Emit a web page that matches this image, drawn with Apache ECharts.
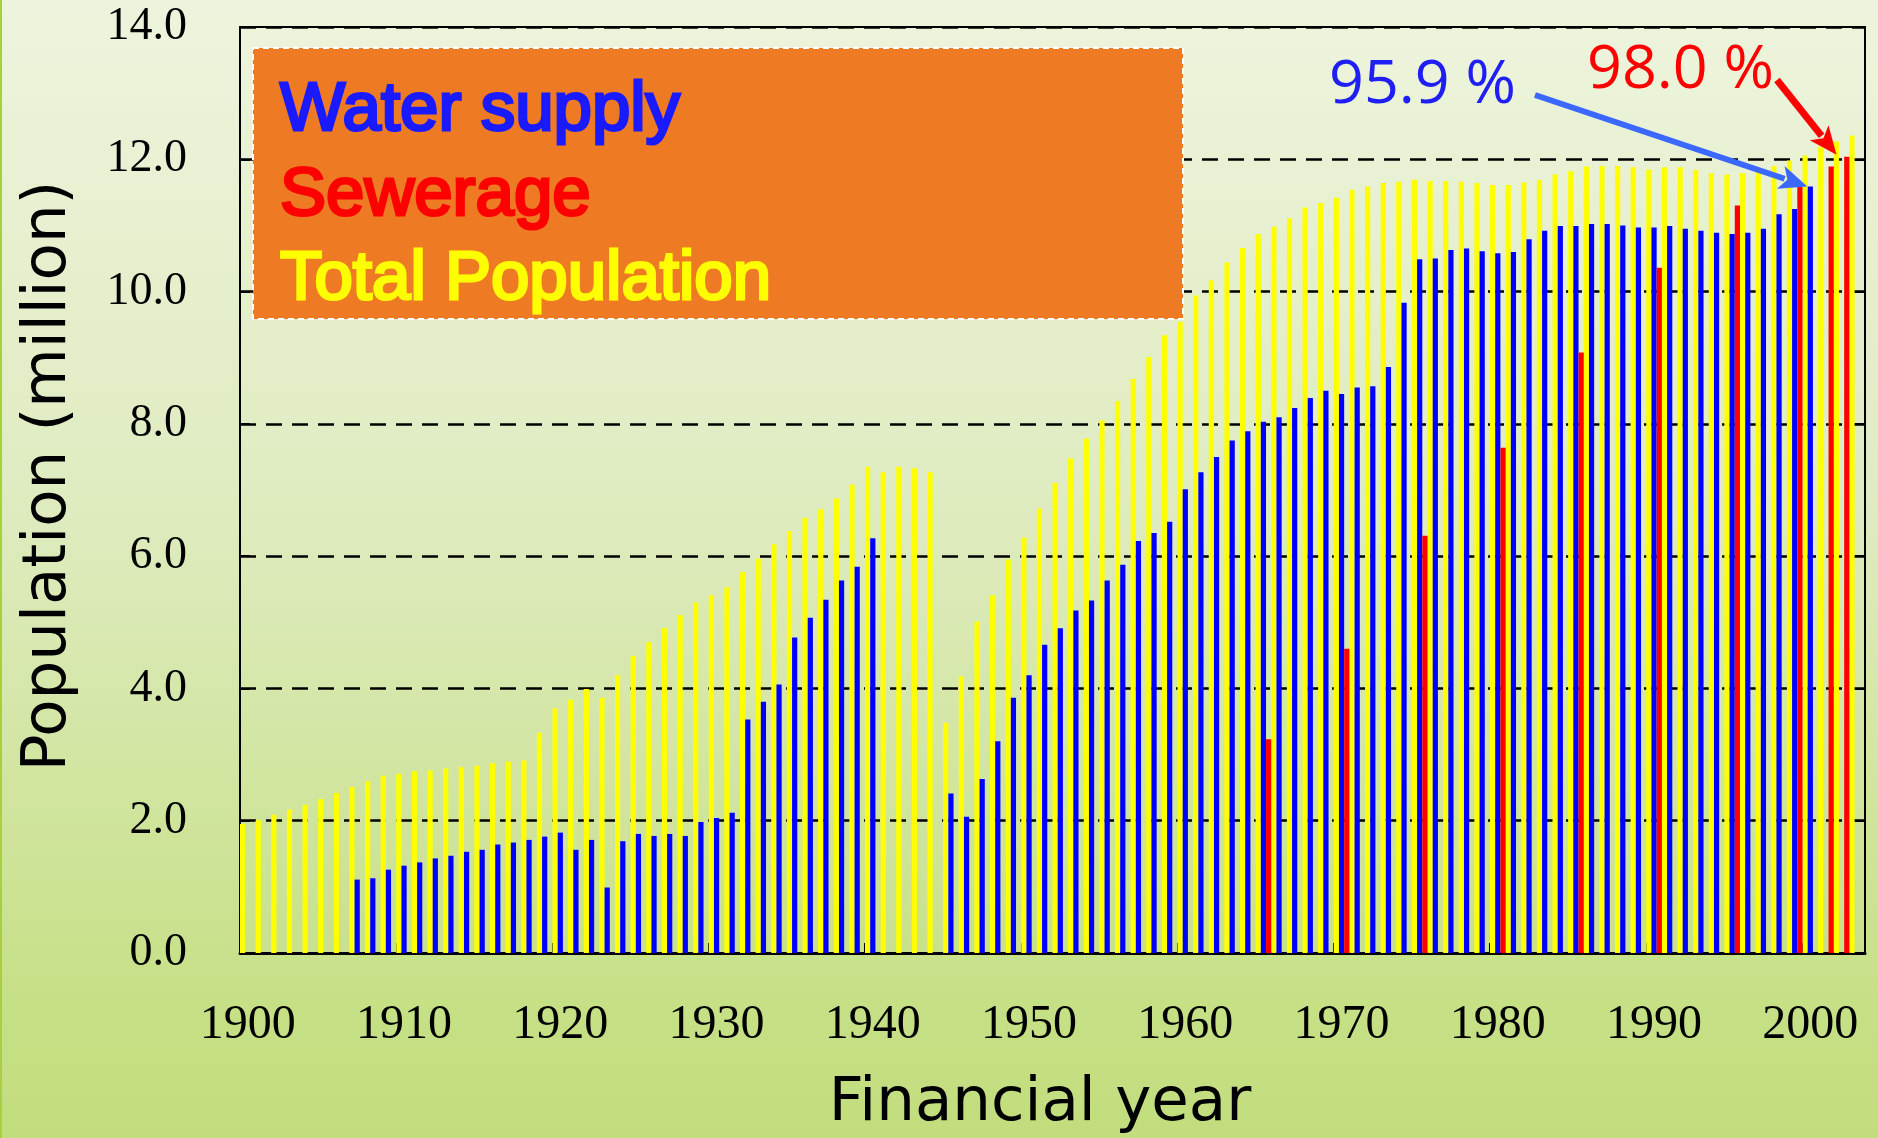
<!DOCTYPE html>
<html>
<head>
<meta charset="utf-8">
<script src="https://cdn.jsdelivr.net/npm/echarts@6/dist/echarts.min.js"></script>
<style>
  html, body { margin: 0; padding: 0; }
  #chart {
    width: 1878px; height: 1138px;
    background: linear-gradient(to bottom, #EDF4DD 0%, #DEEBBE 46%, #C6E086 88%, #C2DD7D 100%);
  }
</style>
</head>
<body>
<div id="chart"></div>
<script>
// ---------------- DATA ----------------
const firstYear = 1900, lastYear = 2003;
const years = [];
for (let y = firstYear; y <= lastYear; y++) years.push(String(y));

// Total population (million), 1900-2003
const totalPopulation = [
  1.95, 2.01, 2.09, 2.17, 2.24, 2.33, 2.42, 2.51, 2.60, 2.68,
  2.71, 2.75, 2.76, 2.79, 2.81, 2.83, 2.87, 2.89, 2.91, 3.33,
  3.70, 3.83, 3.99, 3.86, 4.20, 4.49, 4.70, 4.91, 5.11, 5.30,
  5.41, 5.53, 5.76, 5.96, 6.18, 6.38, 6.58, 6.71, 6.87, 7.08,
  7.35, 7.27, 7.35, 7.33, 7.27, 3.48, 4.18, 5.01, 5.41, 5.95,
  6.28, 6.72, 7.11, 7.48, 7.78, 8.05, 8.34, 8.68, 9.01, 9.34,
  9.54, 9.94, 10.17, 10.44, 10.66, 10.87, 10.98, 11.11, 11.27, 11.34,
  11.42, 11.54, 11.59, 11.64, 11.66, 11.69, 11.67, 11.67, 11.66, 11.64,
  11.61, 11.61, 11.65, 11.69, 11.77, 11.82, 11.89, 11.90, 11.90, 11.88,
  11.84, 11.88, 11.88, 11.84, 11.79, 11.77, 11.79, 11.80, 11.90, 11.98,
  12.06, 12.19, 12.27, 12.36
];

// Water supply population (million), 1900-2003
const waterSupply = [
  null, null, null, null, null, null, null, 1.11, 1.13, 1.26,
  1.32, 1.37, 1.43, 1.47, 1.53, 1.56, 1.64, 1.67, 1.71, 1.76,
  1.82, 1.56, 1.71, 0.99, 1.69, 1.80, 1.77, 1.80, 1.77, 1.98,
  2.04, 2.12, 3.53, 3.80, 4.06, 4.77, 5.07, 5.34, 5.63, 5.84,
  6.27, null, null, null, null, 2.41, 2.06, 2.63, 3.20, 3.86,
  4.20, 4.66, 4.91, 5.18, 5.33, 5.63, 5.87, 6.23, 6.35, 6.52,
  7.01, 7.27, 7.50, 7.75, 7.89, 8.03, 8.10, 8.24, 8.39, 8.50,
  8.45, 8.55, 8.57, 8.86, 9.83, 10.49, 10.50, 10.63, 10.65, 10.61,
  10.58, 10.60, 10.79, 10.92, 10.99, 10.99, 11.02, 11.02, 11.00, 10.97,
  10.97, 10.99, 10.95, 10.92, 10.89, 10.87, 10.89, 10.95, 11.17, 11.25,
  11.59, null, null, null
];

// Sewerage population (million): only surveyed years
const sewerageYears  = [1965, 1970, 1975, 1980, 1985, 1990, 1995, 1999, 2001, 2002];
const sewerageValues = [3.23, 4.60, 6.31, 7.64, 9.08, 10.36, 11.30, 11.59, 11.89, 12.04];

const yTickLabels = ['0.0', '2.0', '4.0', '6.0', '8.0', '10.0', '12.0', '14.0'];

const legendLabels = ['Water supply', 'Sewerage', 'Total Population'];
const annotWater = '95.9 %';
const annotSewer = '98.0 %';

// --------------- BUILD ----------------
const sewerage = years.map(y => {
  const i = sewerageYears.indexOf(Number(y));
  return i >= 0 ? sewerageValues[i] : null;
});

const chart = echarts.init(document.getElementById('chart'), null, { renderer: 'canvas' });

const GRID = { left: 240, top: 27, width: 1625, height: 926 };
const everyTen = (idx) => idx % 10 === 0;

chart.setOption({
  animation: false,
  backgroundColor: 'transparent',
  grid: Object.assign({ show: true, borderColor: '#000', borderWidth: 2, backgroundColor: 'transparent' }, GRID),
  xAxis: [{
    type: 'category',
    data: years,
    boundaryGap: true,
    axisLine: { lineStyle: { color: '#000', width: 3 } },
    axisTick: { show: true, inside: true, length: 10, interval: everyTen, lineStyle: { color: '#000', width: 2 } },
    axisLabel: {
      interval: everyTen,
      fontFamily: 'Liberation Serif', fontSize: 48, color: '#000', margin: 48
    },
    splitLine: { show: false }
  }, {
    type: 'category',
    data: years,
    position: 'top',
    axisLine: { show: true, lineStyle: { color: '#000', width: 2 } },
    axisTick: { show: false },
    axisLabel: { show: false },
    splitLine: { show: false }
  }],
  yAxis: [{
    type: 'value', min: 0, max: 14, interval: 2,
    axisLine: { show: true, lineStyle: { color: '#000', width: 2 } },
    axisTick: { show: true, inside: true, length: 10, lineStyle: { color: '#000', width: 2 } },
    axisLabel: {
      fontFamily: 'Liberation Serif', fontSize: 46, color: '#000', margin: 53,
      formatter: v => yTickLabels[Math.round(v / 2)]
    },
    splitLine: { show: true, lineStyle: { color: '#000', width: 2.5, type: [16, 10] } }
  }, {
    type: 'value', min: 0, max: 14, interval: 2, position: 'right',
    axisLine: { show: true, lineStyle: { color: '#000', width: 2 } },
    axisTick: { show: true, inside: true, length: 10, lineStyle: { color: '#000', width: 2 } },
    axisLabel: { show: false },
    splitLine: { show: false }
  }],
  series: [
    { name: legendLabels[2], type: 'bar', data: totalPopulation, barGap: '0%', barCategoryGap: '0%',
      itemStyle: { color: '#FFFF00' }, z: 2 },
    { name: legendLabels[0], type: 'bar', data: waterSupply, barGap: '0%', barCategoryGap: '0%',
      itemStyle: { color: '#0000FF' }, z: 2 },
    { name: legendLabels[1], type: 'bar', data: sewerage, barGap: '0%', barCategoryGap: '0%',
      itemStyle: { color: '#FF0000' }, z: 2 }
  ]
});

// --------------- ANNOTATIONS ----------------
function arrow(x1, y1, x2, y2, color, lw, headLen, headHalf) {
  const dx = x2 - x1, dy = y2 - y1, L = Math.hypot(dx, dy);
  const ux = dx / L, uy = dy / L, px = -uy, py = ux;
  const bx = x2 - ux * headLen, by = y2 - uy * headLen;
  const nx = x2 - ux * headLen * 0.75, ny = y2 - uy * headLen * 0.75;
  return [
    { type: 'line', z: 100, shape: { x1: x1, y1: y1, x2: bx + ux * 4, y2: by + uy * 4 },
      style: { stroke: color, lineWidth: lw, lineCap: 'butt' } },
    { type: 'polygon', z: 100, shape: { points: [
        [x2, y2], [bx + px * headHalf, by + py * headHalf], [nx, ny], [bx - px * headHalf, by - py * headHalf]
      ] }, style: { fill: color } }
  ];
}

const tipW = chart.convertToPixel({ gridIndex: 0 }, ['2000', waterSupply[100]]);
const tipS = chart.convertToPixel({ gridIndex: 0 }, ['2002', sewerage[102]]);

const legendFont = '69px "Liberation Sans"';
const graphics = [
  { type: 'rect', z: 90, shape: { x: 0, y: 0, width: 2, height: 1138 }, style: { fill: '#A8D03A' } },
  { type: 'rect', z: 100, shape: { x: 253, y: 48, width: 930, height: 271 },
    style: { fill: '#EE7B24', stroke: '#FFFFFF', lineWidth: 2, lineDash: [6, 4] } },
  { type: 'text', z: 101, x: 280, y: 111, style: { text: legendLabels[0], font: legendFont, fill: '#1A1AFF',
    stroke: '#1A1AFF', lineWidth: 3, verticalAlign: 'middle', align: 'left' } },
  { type: 'text', z: 101, x: 280, y: 196, style: { text: legendLabels[1], font: legendFont, fill: '#FF0000',
    stroke: '#FF0000', lineWidth: 3, verticalAlign: 'middle', align: 'left' } },
  { type: 'text', z: 101, x: 280, y: 280, style: { text: legendLabels[2], font: legendFont, fill: '#FFFF00',
    stroke: '#FFFF00', lineWidth: 3, verticalAlign: 'middle', align: 'left' } },
  { type: 'text', z: 101, x: 1329, y: 86, style: { text: annotWater, font: '61px "Open Sans"', fill: '#1E1EF5',
    verticalAlign: 'middle', align: 'left' } },
  { type: 'text', z: 101, x: 1587, y: 71, style: { text: annotSewer, font: '61px "Open Sans"', fill: '#FF0000',
    verticalAlign: 'middle', align: 'left' } },
  { type: 'text', z: 101, x: 49, y: 476, rotation: Math.PI / 2,
    style: { text: 'Population (million)', font: '61px "DejaVu Sans"', fill: '#000',
      verticalAlign: 'middle', align: 'center' } },
  { type: 'text', z: 101, x: 1040, y: 1104,
    style: { text: 'Financial year', font: '61px "DejaVu Sans"', fill: '#000',
      verticalAlign: 'middle', align: 'center' } }
]
.concat(arrow(1535, 95, tipW[0] - 3, tipW[1], '#3B68FF', 6, 28, 12))
.concat(arrow(1777, 80, tipS[0] - 5, tipS[1] - 2, '#FF0000', 7, 28, 12));

chart.setOption({ graphic: graphics });
</script>
</body>
</html>
